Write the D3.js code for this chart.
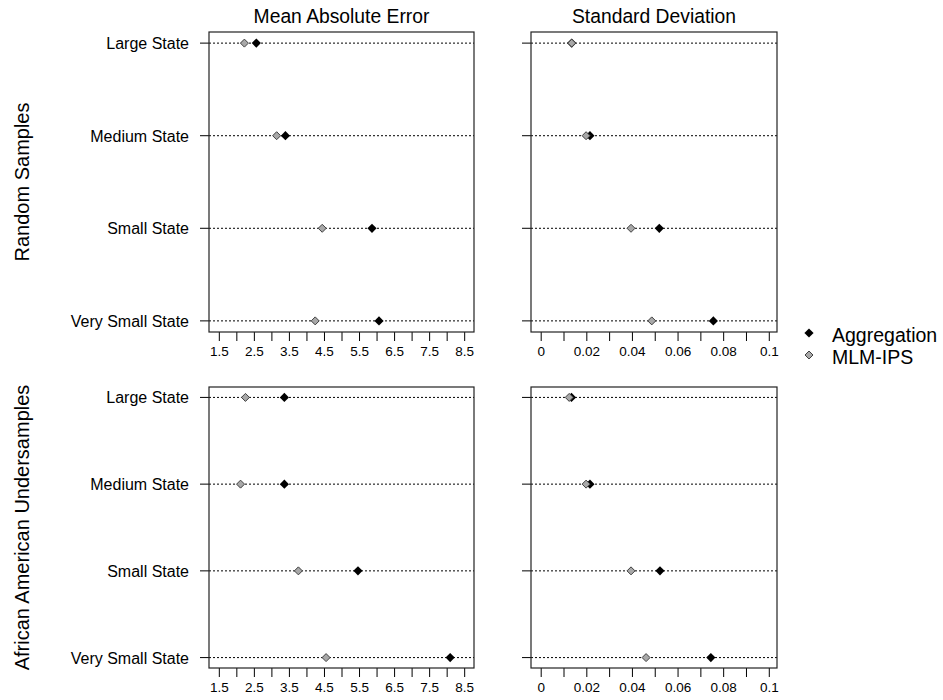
<!DOCTYPE html>
<html>
<head>
<meta charset="utf-8">
<script src="https://cdn.jsdelivr.net/npm/d3@7"></script>
<style>
  body { margin: 0; background: #fff; }
  svg { font-family: "Liberation Sans", Arial, sans-serif; }
</style>
</head>
<body>
<svg id="chart" width="943" height="700"></svg>
<script>
// ---- data ----
const states = ["Large State", "Medium State", "Small State", "Very Small State"];
const series = ["Aggregation", "MLM-IPS"];
const rowGroups = ["Random Samples", "African American Undersamples"];
const measures = ["Mean Absolute Error", "Standard Deviation"];

// Random Samples
const maeRandomAgg = [2.57, 3.40, 5.87, 6.07];
const maeRandomMlm = [2.23, 3.15, 4.45, 4.25];
const sdRandomAgg = [0.0136, 0.0216, 0.052, 0.0757];
const sdRandomMlm = [0.0136, 0.0199, 0.0396, 0.0487];
// African American Undersamples
const maeAAAgg = [3.37, 3.37, 5.47, 8.10];
const maeAAMlm = [2.26, 2.12, 3.77, 4.56];
const sdAAAgg = [0.0135, 0.0216, 0.0523, 0.0746];
const sdAAMlm = [0.0125, 0.0199, 0.0396, 0.0462];

const maeTicks = [1.5, 2, 2.5, 3, 3.5, 4, 4.5, 5, 5.5, 6, 6.5, 7, 7.5, 8, 8.5];
const maeLabels = [1.5, 2.5, 3.5, 4.5, 5.5, 6.5, 7.5, 8.5];
const sdTicks = [0, 0.01, 0.02, 0.03, 0.04, 0.05, 0.06, 0.07, 0.08, 0.09, 0.1];
const sdLabels = [0, 0.02, 0.04, 0.06, 0.08, 0.1];

// ---- layout ----
const svg = d3.select("#chart");
const cols = [{x0: 209, x1: 474}, {x0: 531, x1: 777}];
const rows = [{y0: 32, y1: 332}, {y0: 387, y1: 668}];
const colDomains = [[1.22, 8.78], [-0.00425, 0.1036]];
const colTicks = [maeTicks, sdTicks];
const colLabels = [maeLabels, sdLabels];
const panelData = [
  [[maeRandomAgg, maeRandomMlm], [sdRandomAgg, sdRandomMlm]],
  [[maeAAAgg, maeAAMlm], [sdAAAgg, sdAAMlm]]
];

const diamond = (cx, cy, r) => `M${cx},${cy - r}L${cx + r},${cy}L${cx},${cy + r}L${cx - r},${cy}Z`;

function drawPoint(g, cx, cy, s) {
  if (s === 0) {
    g.append("path").attr("d", diamond(cx, cy, 4.6)).attr("fill", "#000").attr("stroke", "none");
  } else {
    g.append("path").attr("d", diamond(cx, cy, 4)).attr("fill", "#a8a8a8").attr("stroke", "#404040").attr("stroke-width", 1);
  }
}

rows.forEach((r, ri) => {
  // R-style 4% padding on index positions 1..4
  const yIdx = d3.scaleLinear().domain([0.88, 4.12]).range([r.y0, r.y1]);
  cols.forEach((c, ci) => {
    const x = d3.scaleLinear().domain(colDomains[ci]).range([c.x0, c.x1]);
    const g = svg.append("g");
    // dotted guide lines
    states.forEach((st, i) => {
      const yy = yIdx(i + 1);
      g.append("line").attr("x1", c.x0).attr("x2", c.x1).attr("y1", yy).attr("y2", yy)
        .attr("stroke", "#000").attr("stroke-width", 1).attr("stroke-dasharray", "2,2");
      g.append("line").attr("x1", c.x0 - 9).attr("x2", c.x0).attr("y1", yy).attr("y2", yy)
        .attr("stroke", "#000").attr("stroke-width", 1);
      if (ci === 0) {
        g.append("text").attr("x", c.x0 - 20).attr("y", yy + 6).attr("text-anchor", "end")
          .attr("font-size", 16).attr("fill", "#000").text(st);
      }
    });
    // x axis
    const axis = d3.axisBottom(x).tickValues(colTicks[ci]).tickSize(9).tickSizeOuter(0)
      .tickFormat(d => colLabels[ci].some(v => Math.abs(v - d) < 1e-9) ? d3.format("")(d) : "");
    const ax = g.append("g").attr("transform", `translate(0,${r.y1})`).call(axis);
    ax.select(".domain").remove();
    ax.selectAll(".tick line").attr("stroke", "#000");
    ax.selectAll(".tick text").attr("font-size", 13.5).attr("fill", "#000")
      .attr("font-family", "Liberation Sans, Arial, sans-serif").attr("dy", "1.05em").attr("y", 10);
    // points
    const [agg, mlm] = panelData[ri][ci];
    states.forEach((st, i) => {
      drawPoint(g, x(agg[i]), yIdx(i + 1), 0);
    });
    states.forEach((st, i) => {
      drawPoint(g, x(mlm[i]), yIdx(i + 1), 1);
    });
    // box
    g.append("rect").attr("x", c.x0).attr("y", r.y0).attr("width", c.x1 - c.x0).attr("height", r.y1 - r.y0)
      .attr("fill", "none").attr("stroke", "#222").attr("stroke-width", 1.2);
    // titles
    if (ri === 0) {
      svg.append("text").attr("x", (c.x0 + c.x1) / 2).attr("y", 23).attr("text-anchor", "middle")
        .attr("font-size", 19.3).attr("fill", "#000").text(measures[ci]);
    }
  });
  svg.append("text").attr("transform", `translate(29,${(r.y0 + r.y1) / 2}) rotate(-90)`)
    .attr("text-anchor", "middle").attr("font-size", 20).attr("fill", "#000").text(rowGroups[ri]);
});

// legend
const lg = svg.append("g");
series.forEach((s, i) => {
  const yy = 335 + i * 22;
  drawPoint(lg, 809, yy - 2, i);
  lg.append("text").attr("x", 832).attr("y", yy + 7).attr("font-size", 19.5).attr("fill", "#000").text(s);
});
</script>
</body>
</html>
